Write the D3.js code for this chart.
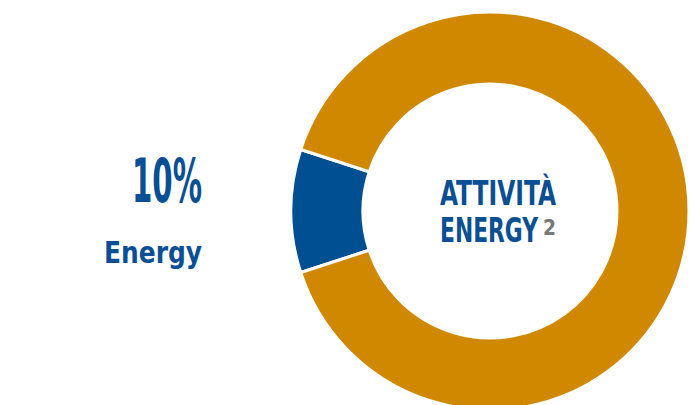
<!DOCTYPE html>
<html>
<head>
<meta charset="utf-8">
<script src="https://cdn.jsdelivr.net/npm/d3@7"></script>
<style>
  body { margin: 0; background: #fff; }
  text { font-family: "Liberation Sans Narrow", "DejaVu Sans Condensed", sans-serif; font-weight: bold; }
</style>
</head>
<body>
<svg width="691" height="405"></svg>
<script>
var categories = ["Energy", "Altro"];
var values = [10, 90];
var colors = ["#004f92", "#cf8800"];
var centerLines = ["ATTIVITÀ", "ENERGY"];
var footnote = "2";

var svg = d3.select("svg"),
    cx = 490, cy = 211,
    outerR = 199, innerR = 127;

var data = categories.map(function(c, i) { return {name: c, value: values[i]}; });

// energy slice centred on the left side (270deg)
var startAngle = 1.5 * Math.PI - (values[0] / d3.sum(values)) * Math.PI;

var pie = d3.pie()
    .value(function(d) { return d.value; })
    .sort(null)
    .startAngle(startAngle)
    .endAngle(startAngle + 2 * Math.PI);

var arc = d3.arc().innerRadius(innerR).outerRadius(outerR);

var g = svg.append("g").attr("transform", "translate(" + cx + "," + cy + ")");

g.selectAll("path").data(pie(data)).enter().append("path")
    .attr("d", arc)
    .attr("fill", function(d, i) { return colors[i]; })
    .attr("stroke", "#fff")
    .attr("stroke-width", 3);

// squeeze a text horizontally so it is w pixels wide (condensed look)
function label(str, x, y, size, w, anchor, fill) {
  var t = svg.append("text")
      .attr("font-size", size)
      .attr("fill", fill || "#0a4f93")
      .text(str);
  var natural = t.node().getComputedTextLength();
  var k = w / natural;
  var x0 = anchor === "end" ? x - w : x;
  t.attr("transform", "translate(" + x0 + "," + y + ") scale(" + k + ",1)");
  return t;
}

var pct = d3.format(".0%");
label(pct(values[0] / d3.sum(values)), 202, 202, 60, 70, "end");
label(categories[0], 202, 263, 30, 98, "end");

// centre text
label(centerLines[0], 440, 205, 33, 116, "start");
label(centerLines[1], 440, 242, 33, 98, "start");
label(footnote, 543, 235, 22, 13, "start", "#777");
</script>
</body>
</html>
